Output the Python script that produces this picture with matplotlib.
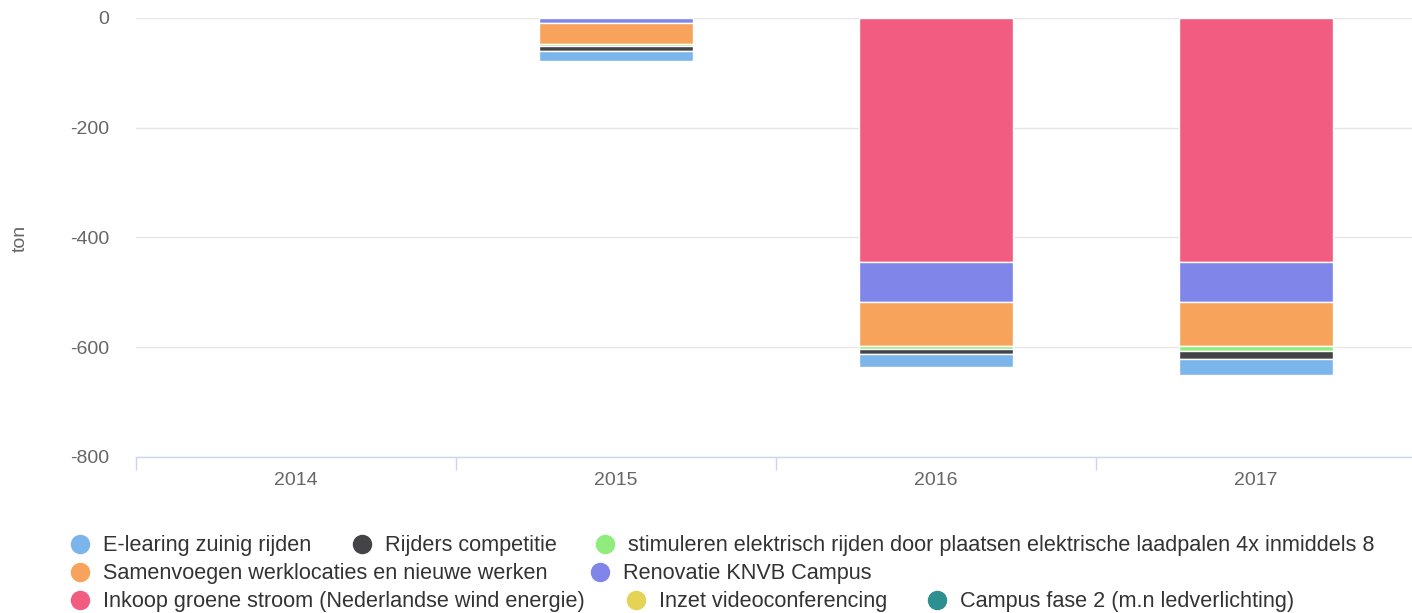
import numpy as np
import matplotlib
matplotlib.use("Agg")
import matplotlib.pyplot as plt

plt.rcParams["font.family"] = ["Liberation Sans", "DejaVu Sans"]

years = ["2014", "2015", "2016", "2017"]

series_names = [
    "E-learing zuinig rijden",
    "Rijders competitie",
    "stimuleren elektrisch rijden door plaatsen elektrische laadpalen 4x inmiddels 8",
    "Samenvoegen werklocaties en nieuwe werken",
    "Renovatie KNVB Campus",
    "Inkoop groene stroom (Nederlandse wind energie)",
    "Inzet videoconferencing",
    "Campus fase 2 (m.n ledverlichting)",
]
colors = ["#7cb5ec", "#434348", "#90ed7d", "#f7a35c", "#8085e9", "#f15c80", "#e4d354", "#2b908f"]

# values per series, per year (ton CO2, negative = reduction)
e_learing = [0, -19, -23, -29]
rijders = [0, -9, -9, -14]
stimuleren = [0, -4, -7, -10]
samenvoegen = [0, -38, -79, -79]
renovatie = [0, -9, -74, -74]
inkoop = [0, 0, -444, -444]
inzet = [0, 0, 0, 0]
campus = [0, 0, 0, 0]
values = [e_learing, rijders, stimuleren, samenvoegen, renovatie, inkoop, inzet, campus]

W, H = 1412, 613
fig = plt.figure(figsize=(W / 100, H / 100), dpi=100)
ax = fig.add_axes([136 / W, 1 - 457 / H, (1416 - 136) / W, (457 - 18) / H])

x = np.arange(len(years))
# highcharts stacks the last series nearest zero
bottom = np.zeros(len(years))
for name, vals, col in reversed(list(zip(series_names, values, colors))):
    v = np.array(vals, dtype=float)
    keep = v != 0
    if keep.any():
        ax.bar(x[keep], v[keep], bottom=bottom[keep], width=0.48, color=col,
               edgecolor="white", linewidth=1, zorder=3)
    bottom = bottom + v

ax.set_xlim(-0.5, 3.5)
ax.set_ylim(-800, 0)
ax.set_yticks([0, -200, -400, -600, -800])
ax.set_yticklabels(["0", "-200", "-400", "-600", "-800"])
ax.grid(axis="y", color="#e6e6e6", linewidth=1, zorder=0)
ax.set_xticks(x)
ax.set_xticklabels(years)
ax.set_xticks([-0.5, 0.5, 1.5, 2.5, 3.5], minor=True)
ax.tick_params(axis="x", which="major", length=0, pad=11, labelsize=14, labelcolor="#666666")
ax.tick_params(axis="x", which="minor", length=9, width=1, color="#ccd6eb")
ax.tick_params(axis="y", length=0, pad=19, labelsize=14, labelcolor="#666666")
for s in ["top", "right", "left"]:
    ax.spines[s].set_visible(False)
ax.spines["bottom"].set_color("#ccd6eb")
ax.spines["bottom"].set_linewidth(1)
ax.set_axisbelow(True)

fig.text(20 / W, 1 - 238 / H, "ton", rotation=90, ha="center", va="center",
         fontsize=14, color="#666666")

# legend laid out like the original (three rows)
legend_pos = [
    (80, 544), (362, 544), (605, 544),
    (80, 572), (600, 572),
    (80, 600), (636, 600), (937, 600),
]
for (px, py), name, col in zip(legend_pos, series_names, colors):
    fig.lines.append(plt.Line2D([px / W], [1 - py / H], marker="o", markersize=13,
                                color=col, linestyle="none", transform=fig.transFigure))
    fig.text((px + 23) / W, 1 - (py + 1.5) / H, name, ha="left", va="center",
             fontsize=15.6, color="#333333")

fig.savefig("out.png", dpi=100)
